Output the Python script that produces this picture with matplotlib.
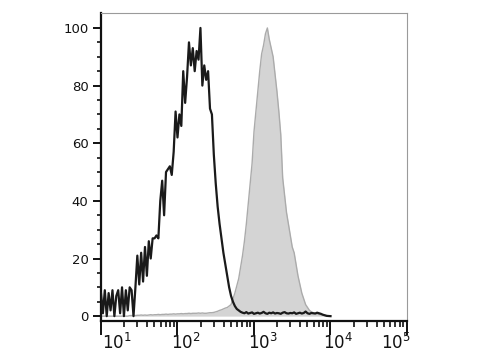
import numpy as np
import matplotlib
matplotlib.use("Agg")
import matplotlib.pyplot as plt
from matplotlib.ticker import FixedLocator, NullFormatter, LogLocator

# channel grid: 40 channels per decade, from 10^1 to 10^4
channels = 10 ** np.linspace(1, 4, 121)

# isotype control (black line), % of max
isotype = [8, 1, 9, 0, 8, 2, 9, 0, 7, 9, 1, 10, 0, 9, 2, 10, 9, 0,
           10, 21, 11, 22, 12, 24, 14, 26, 20, 27, 27, 28, 27, 40, 47, 35,
           50, 51, 52, 49, 57, 71, 62, 70, 66, 85, 74, 83, 95, 87, 93, 85,
           92, 89, 100, 80, 87, 82, 85, 72, 70, 56, 46, 38, 32, 27, 22, 18,
           14, 10, 7, 5, 3.5, 2.5, 2, 1.5,
           1.2, 1.0, 1.4, 0.9, 1.1, 1.3, 0.8, 1.0, 1.2, 0.9, 1.1, 1.5, 1.0,
           0.8, 1.2, 1.0, 1.3, 0.9, 1.1, 1.0, 0.8, 1.2, 1.4, 1.0, 0.9, 1.1,
           1.0, 1.3, 0.8, 1.0, 1.2, 0.9, 1.1, 1.6, 1.0, 0.8, 1.1, 1.0, 0.9,
           1.2, 1.0, 0.8, 0.5, 0.3, 0.1, 0.05, 0]

# stained sample (grey filled), % of max
stained = [0, 0, 0, 0, 0, 0, 0, 0, 0, 0, 0, 0, 0, 0, 0, 0.2, 0.2, 0.3, 0.2,
           0.3, 0.3, 0.4, 0.3, 0.4, 0.3, 0.4, 0.5, 0.4, 0.5, 0.5, 0.6, 0.5,
           0.6, 0.6, 0.7, 0.6, 0.7, 0.7, 0.8, 0.7, 0.8, 0.8, 0.9, 0.8, 0.9,
           0.9, 1.0, 0.9, 1.0, 1.0, 1.0, 1.1, 1.0, 1.1, 1.0, 1.0, 1.1, 1.2,
           1.2, 1.3, 1.5, 1.7, 2.0, 2.2, 2.5, 2.8, 3.0, 3.5, 4.0, 6.0, 8.0,
           10.5, 13, 17, 21, 26, 32, 39, 46, 53, 64, 71, 78, 85, 91, 94, 98,
           100, 96, 93, 90, 84, 78, 71, 63, 48, 42, 36, 32, 28, 24, 22, 18,
           14, 11, 8, 6, 4, 3, 2, 1.5, 1.2, 1.0, 0.8, 0.6, 0.5, 0.4, 0.3,
           0.2, 0.1, 0]

x_ticks = [1e1, 1e2, 1e3, 1e4, 1e5]
x_exponents = ["1", "2", "3", "4", "5"]
# label centres (in log10 units) as placed in the reference
x_label_pos = [1.21, 2.11, 3.12, 4.10, 4.86]
y_ticks = [0, 20, 40, 60, 80, 100]

fig = plt.figure(figsize=(4.8, 3.6), dpi=100)
ax = fig.add_axes([0.2104, 0.109, 0.6375, 0.855])

ax.fill_between(channels, 0, stained, color="#d4d4d4", linewidth=0, zorder=1)
ax.plot(channels, stained, color="#ababab", linewidth=1.0, zorder=2)
ax.plot(channels, isotype, color="#1a1a1a", linewidth=1.6, zorder=3)

ax.set_xscale("log")
ax.set_xlim(1e1, 1e5)
ax.set_ylim(-1.6, 105.2)

ax.xaxis.set_major_locator(FixedLocator(x_ticks))
ax.xaxis.set_minor_locator(LogLocator(base=10, subs=np.arange(2, 10)))
ax.xaxis.set_major_formatter(NullFormatter())
ax.xaxis.set_minor_formatter(NullFormatter())
for pos, e in zip(x_label_pos, x_exponents):
    ax.text(10 ** pos, -0.038, r"$\mathregular{10^{%s}}$" % e,
            transform=ax.get_xaxis_transform(), ha="center", va="top",
            fontsize=12, color="#111111")

ax.yaxis.set_major_locator(FixedLocator(y_ticks))
ax.yaxis.set_minor_locator(FixedLocator(np.arange(0, 105, 5)))
ax.set_yticklabels([str(v) for v in y_ticks], fontsize=9.5, color="#111111")

ax.tick_params(axis="both", which="major", direction="out", width=1.4,
               color="#111111")
ax.tick_params(axis="y", which="major", length=6, pad=3)
ax.tick_params(axis="y", which="minor", length=3, width=1.2, color="#111111")
ax.tick_params(axis="x", which="major", length=10)
ax.tick_params(axis="x", which="minor", length=4, width=1.2, color="#111111")

for s in ["left", "bottom"]:
    ax.spines[s].set_color("#111111")
    ax.spines[s].set_linewidth(1.6)
for s in ["top", "right"]:
    ax.spines[s].set_color("#9a9a9a")
    ax.spines[s].set_linewidth(0.8)

fig.savefig("out.png", dpi=100)
